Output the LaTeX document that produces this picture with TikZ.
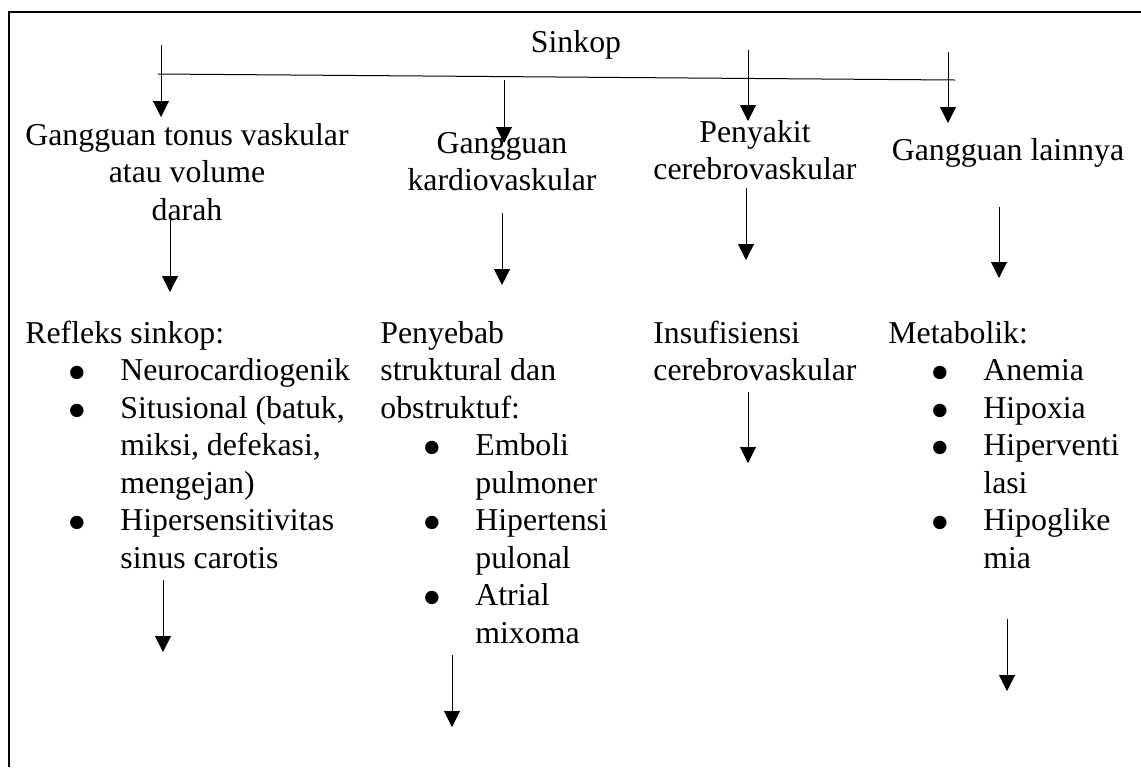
\documentclass[tikz,border=0pt]{standalone}
\usepackage{fontspec}
\setmainfont{Liberation Serif}
\usepackage{tikz}
\usetikzlibrary{arrows.meta}
\tikzstyle{arrow} = [line width=0.5pt,->,>={Triangle[length=8pt,width=8pt]}]
\newcommand{\bul}{\makebox[47.5pt][l]{\hspace*{21pt}\smash{\raisebox{-5.7pt}{\fontsize{28}{28}\selectfont\textbullet}}}}
\newcommand{\ind}{\hspace*{47.5pt}}
\newcommand{\hblock}[1]{\begin{tabular}[t]{@{}c@{}}#1\end{tabular}}
\newcommand{\lblock}[1]{\begin{tabular}[t]{@{}l@{}}#1\end{tabular}}

\begin{document}
\begin{tikzpicture}[x=0.5pt, y=-0.5pt,
				txt/.style= {inner sep=0pt, anchor=base, font={\fontsize{15.9}{18.75}\selectfont}},
				list/.style= {txt, anchor=base west}
			]
			\useasboundingbox (0,0) rectangle (1141,767);
			\draw [line width=1pt] (1141,12) -- (9,12) -- (9,767);
			
			\node (sinkop) [txt] at (576,52) {Sinkop};
			\node (tonus) [txt] at (187,145) {\hblock{Gangguan tonus vaskular\\atau volume\\darah}};
			\node (kardio) [txt] at (502,153) {\hblock{Gangguan\\kardiovaskular}};
			\node (cerebro) [txt] at (755,142) {\hblock{Penyakit\\cerebrovaskular}};
			\node (lain) [txt] at (1008,160) {Gangguan lainnya};
			
			\node (refleks) [list] at (25,343) {\lblock{Refleks sinkop:\\
				\bul Neurocardiogenik\\
				\bul Situsional (batuk,\\
				\ind miksi, defekasi,\\
				\ind mengejan)\\
				\bul Hipersensitivitas\\
				\ind sinus carotis}};
			\node (struktur) [list] at (380,343) {\lblock{Penyebab\\
				struktural dan\\
				obstruktuf:\\
				\bul Emboli\\
				\ind pulmoner\\
				\bul Hipertensi\\
				\ind pulonal\\
				\bul Atrial\\
				\ind mixoma}};
			\node (insuf) [list] at (653,343) {\lblock{Insufisiensi\\cerebrovaskular}};
			\node (metab) [list] at (888,343) {\lblock{Metabolik:\\
				\bul Anemia\\
				\bul Hipoxia\\
				\bul Hiperventi\\
				\ind lasi\\
				\bul Hipoglike\\
				\ind mia}};
			
			\coordinate (bl) at (158,74);
			\coordinate (br) at (955,80);
			\draw [line width=0.5pt] (bl) -- (br);
			
			\foreach \n/\x/\ya/\yb in {1/161/45/117, 2/504/80/143, 3/748/50/121, 4/948/52/123,
				5/170/220/292, 6/502/213/285, 7/746/188/260, 8/999/207/278,
				9/163/580/652, 10/452/655/727, 11/748/392/463, 12/1007/619/691}{
				\coordinate (s\n) at (\x,\ya);
				\coordinate (e\n) at (\x,\yb);
				\draw [arrow] (s\n) -- (e\n);
			}
		\end{tikzpicture}
\end{document}
